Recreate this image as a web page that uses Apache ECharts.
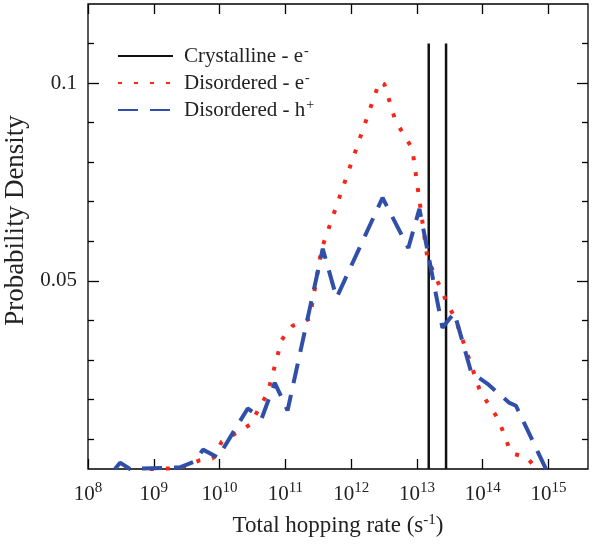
<!DOCTYPE html>
<html>
<head>
    <meta charset="utf-8">
    <title>hopping rate</title>
    <script src="https://cdn.jsdelivr.net/npm/echarts@6/dist/echarts.min.js"></script>
    <style>
        html, body { margin: 0; padding: 0; background: #fff; }
        #main { width: 595px; height: 544px; }
    </style>
</head>
<body>
<div id="main"></div>
<script>
    // values (rate in s^-1, probability density)
    var decadeTicks = [1e8, 1e9, 1e10, 1e11, 1e12, 1e13, 1e14, 1e15];
    var yMajorTicks = [0.05, 0.1];
    var yMinorTicks = [0.01, 0.02, 0.03, 0.04, 0.06, 0.07, 0.08, 0.09, 0.11];

    var crystRates = [1.51e13, 2.77e13];
    var crystTop = 0.11;

    var elecRates = [8.7e8, 2.49e9, 5.0e9, 7.9e9, 1.08e10, 2.9e10, 5.4e10, 8.8e10, 1.29e11, 2.34e11,
        3.56e11, 2.7e12, 3.2e12, 4.7e12, 8.5e12, 1.44e13, 1.98e13, 3.0e13, 3.84e13, 8.9e13,
        1.22e14, 1.73e14, 2.7e14, 4.6e14, 6.7e14];
    var elecDens = [0.0024, 0.0026, 0.0046, 0.0051, 0.0093, 0.0136, 0.0217, 0.0351, 0.0386, 0.0404,
        0.0581, 0.1004, 0.0997, 0.0905, 0.0834, 0.0558, 0.0505, 0.0437, 0.0404, 0.0226,
        0.0188, 0.0150, 0.0064, 0.0054, 0.0024];

    var holeRates = [2.57e8, 3.07e8, 4.34e8, 2.49e9, 4.2e9, 5.6e9, 9.4e9, 2.68e10, 4.37e10, 6.9e10,
        1.08e11, 3.7e11, 6.0e11, 3.0e12, 7.4e12, 1.09e13, 2.44e13, 3.7e13, 6.7e13, 1.17e14,
        2.5e14, 3.2e14, 9.2e14];
    var holeDens = [0.0024, 0.0040, 0.0024, 0.0028, 0.0043, 0.0073, 0.0053, 0.0177, 0.0152, 0.0242,
        0.0172, 0.0581, 0.0457, 0.0710, 0.0583, 0.0682, 0.0381, 0.0419, 0.0268, 0.0240,
        0.0192, 0.0184, 0.0023];

    var yMin = 0.0024, yMax = 0.12;
    var xMin = 1e8, xMax = Math.pow(10, 15.6);

    function pairs(xs, ys) {
        var out = [];
        for (var i = 0; i < xs.length; i++) out.push([xs[i], ys[i]]);
        return out;
    }

    var serif = 'Liberation Serif';
    var txt = '#222';

    var chart = echarts.init(document.getElementById('main'), null, { renderer: 'canvas' });

    var xBase = {
        type: 'log', logBase: 10, min: xMin, max: xMax,
        axisLine: { show: false }, splitLine: { show: false }, minorTick: { show: false }
    };
    var yBase = {
        type: 'value', min: yMin, max: yMax,
        axisLine: { show: false }, splitLine: { show: false }
    };

    var option = {
        animation: false,
        backgroundColor: '#fff',
        grid: {
            left: 88, right: 7, top: 4, bottom: 75, outerBoundsMode: 'none', containLabel: false,
            show: true, borderColor: '#000', borderWidth: 1.3
        },
        legend: {
            left: 112, top: 39, orient: 'vertical', itemWidth: 55, itemHeight: 20, itemGap: 3,
            itemStyle: { opacity: 0 },
            data: ['Crystalline - e-', 'Disordered - e-', 'Disordered - h+'],
            formatter: function (name) {
                return '{n|' + name.slice(0, -1) + '}{s|' + name.slice(-1) + '}';
            },
            textStyle: {
                padding: [0, 0, 0, 6],
                rich: {
                    n: { fontFamily: serif, fontSize: 21, color: txt, lineHeight: 24 },
                    s: { fontFamily: serif, fontSize: 14, color: txt, lineHeight: 24, verticalAlign: 'top', padding: [0, 0, 10, 1] }
                }
            }
        },
        xAxis: [
            Object.assign({}, xBase, {
                position: 'bottom',
                name: '{n|Total hopping rate (s}{s|-1}{n|)}',
                nameLocation: 'middle', nameGap: 44,
                nameTextStyle: {
                    rich: {
                        n: { fontFamily: serif, fontSize: 23, color: txt, lineHeight: 26 },
                        s: { fontFamily: serif, fontSize: 15, color: txt, lineHeight: 26, verticalAlign: 'top', padding: [0, 0, 10, 0] }
                    }
                },
                axisTick: { show: true, inside: true, length: 10, lineStyle: { color: '#000', width: 1.3 }, customValues: decadeTicks },
                axisLabel: {
                    show: true, margin: 12, customValues: decadeTicks,
                    formatter: function (v) {
                        return '{b|10}{s|' + Math.round(Math.log10(v)) + '}';
                    },
                    rich: {
                        b: { fontFamily: serif, fontSize: 21, color: txt, lineHeight: 26 },
                        s: { fontFamily: serif, fontSize: 15, color: txt, lineHeight: 26, verticalAlign: 'top', padding: [0, 0, 10, 0] }
                    }
                }
            }),
            Object.assign({}, xBase, {
                position: 'top',
                axisTick: { show: true, inside: true, length: 10, lineStyle: { color: '#000', width: 1.3 }, customValues: decadeTicks },
                axisLabel: { show: false }
            })
        ],
        yAxis: [
            Object.assign({}, yBase, {
                position: 'left',
                name: 'Probability Density', nameLocation: 'middle', nameGap: 47,
                nameTextStyle: { fontFamily: serif, fontSize: 27, color: txt, padding: [0, 0, 0, 32] },
                axisTick: { show: true, inside: true, length: 11, lineStyle: { color: '#000', width: 1.3 }, customValues: yMajorTicks },
                axisLabel: {
                    show: true, margin: 11, customValues: yMajorTicks,
                    fontFamily: serif, fontSize: 21, color: txt,
                    formatter: function (v) { return String(v); }
                }
            }),
            Object.assign({}, yBase, {
                position: 'left',
                axisTick: { show: true, inside: true, length: 6, lineStyle: { color: '#000', width: 1.3 }, customValues: yMinorTicks },
                axisLabel: { show: false }
            }),
            Object.assign({}, yBase, {
                position: 'right',
                axisTick: { show: true, inside: true, length: 11, lineStyle: { color: '#000', width: 1.3 }, customValues: yMajorTicks },
                axisLabel: { show: false }
            }),
            Object.assign({}, yBase, {
                position: 'right',
                axisTick: { show: true, inside: true, length: 6, lineStyle: { color: '#000', width: 1.3 }, customValues: yMinorTicks },
                axisLabel: { show: false }
            })
        ],
        series: [
            {
                name: 'Crystalline - e-', type: 'line', symbol: 'none', clip: true,
                lineStyle: { color: '#111', width: 2.5 }, itemStyle: { color: '#111' },
                data: [[crystRates[0], yMin], [crystRates[0], crystTop]]
            },
            {
                name: 'Crystalline - e-', type: 'line', symbol: 'none', clip: true,
                lineStyle: { color: '#111', width: 2.5 }, itemStyle: { color: '#111' },
                data: [[crystRates[1], yMin], [crystRates[1], crystTop]]
            },
            {
                name: 'Disordered - e-', type: 'line', symbol: 'none', clip: true,
                lineStyle: { color: '#f5261b', width: 4, type: [4, 12], cap: 'butt' },
                itemStyle: { color: '#f5261b' },
                data: pairs(elecRates, elecDens)
            },
            {
                name: 'Disordered - h+', type: 'line', symbol: 'none', clip: true,
                lineStyle: { color: '#2f4fa8', width: 4, type: [20, 12], cap: 'butt' },
                itemStyle: { color: '#2f4fa8' },
                data: pairs(holeRates, holeDens)
            }
        ]
    };
    chart.setOption(option);
</script>
</body>
</html>
